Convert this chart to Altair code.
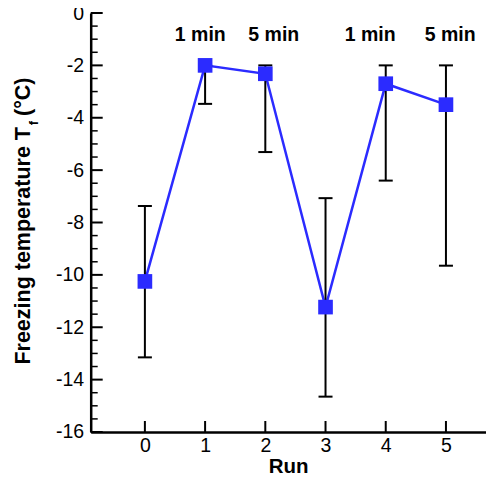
import altair as alt
import pandas as pd

# ---- data ----
runs = [0, 1, 2, 3, 4, 5]
tf_mean = [-10.25, -2.0, -2.32, -11.23, -2.70, -3.50]
tf_low = [-13.15, -3.47, -5.31, -14.65, -6.40, -9.65]
tf_high = [-7.37, -2.0, -2.0, -7.07, -2.0, -2.0]

note_x = [0.92, 2.14, 3.74, 5.07]
note_y = [-0.84, -0.84, -0.84, -0.84]
note_text = ["1 min", "5 min", "1 min", "5 min"]

x_ticks = [0, 1, 2, 3, 4, 5]
y_major = list(range(-16, 1, 2))
y_minor = [v / 2 for v in range(-31, 0) if v % 4 != 0]

BLUE = "#2b2bff"
FONT = "Liberation Sans"
W, H = 395, 419
LEFT, TOP = 82.7, 5.0

df = pd.DataFrame({"run": runs, "tf": tf_mean, "lo": tf_low, "hi": tf_high})
caps = pd.DataFrame({"run": runs + runs, "tf": tf_low + tf_high})
notes = pd.DataFrame({"run": note_x, "tf": note_y, "t": note_text})
xt = pd.DataFrame({"run": x_ticks})
ymaj = pd.DataFrame({"tf": y_major})
ymin = pd.DataFrame({"tf": y_minor})
one = pd.DataFrame({"a": [0]})

xscale = alt.Scale(domain=[-0.9, 5.66], nice=False, zero=False)
yscale = alt.Scale(domain=[-16, 0], nice=False, zero=False)

xaxis = alt.Axis(values=x_ticks, labelExpr="'' + datum.value", ticks=False,
                 grid=False, domainColor="black", domainWidth=2.5,
                 labelFont=FONT, labelFontSize=19.5, labelColor="black",
                 labelPadding=4.5, title="Run", titleFont=FONT,
                 titleFontSize=20.5, titleFontWeight="bold", titleColor="black",
                 titlePadding=1.5)
yaxis = alt.Axis(values=y_major, labelExpr="'' + datum.value", ticks=False,
                 grid=False, domainColor="black", domainWidth=2.5,
                 labelFont=FONT, labelFontSize=19.5, labelColor="black",
                 labelPadding=7, title=None)

X = alt.X("run:Q", scale=xscale, axis=xaxis)
Y = alt.Y("tf:Q", scale=yscale, axis=yaxis)

line = alt.Chart(df).mark_line(color=BLUE, strokeWidth=2.5).encode(x=X, y=Y)

err = alt.Chart(df).mark_rule(color="black", strokeWidth=2).encode(
    x=X, y=alt.Y("lo:Q", scale=yscale, axis=yaxis), y2="hi:Q")

cap = alt.Chart(caps).mark_tick(color="black", orient="horizontal",
                                size=14, thickness=2, opacity=1).encode(x=X, y=Y)

pts = alt.Chart(df).mark_point(shape="square", filled=True, size=215,
                               color=BLUE, opacity=1).encode(x=X, y=Y)

txt = alt.Chart(notes).mark_text(font=FONT, fontSize=19.5, fontWeight="bold",
                                 color="black", align="center",
                                 baseline="middle").encode(x=X, y=Y, text="t:N")

xtick = alt.Chart(xt).mark_rule(color="black", strokeWidth=2).encode(
    x=X, y=alt.value(H), y2=alt.value(H - 11))
ytick_major = alt.Chart(ymaj).mark_rule(color="black", strokeWidth=2).encode(
    y=Y, x=alt.value(0), x2=alt.value(12))
ytick_minor = alt.Chart(ymin).mark_rule(color="black", strokeWidth=1.5).encode(
    y=Y, x=alt.value(0), x2=alt.value(7))

# y-axis title with a subscript f (page coordinates converted to plot ones)
TX = 24 - (LEFT + 8)
ytitle_main = alt.Chart(one).mark_text(
    font=FONT, fontSize=21.5, fontWeight="bold", color="black",
    angle=270, align="right", baseline="middle").encode(
    x=alt.value(TX), y=alt.value(127 - (TOP + 8)),
    text=alt.value("Freezing temperature T"))
ytitle_sub = alt.Chart(one).mark_text(
    font=FONT, fontSize=13, fontWeight="bold", color="black",
    angle=270, align="center", baseline="middle").encode(
    x=alt.value(34 - (LEFT + 8)), y=alt.value(123 - (TOP + 8)),
    text=alt.value("f"))
ytitle_unit = alt.Chart(one).mark_text(
    font=FONT, fontSize=21.5, fontWeight="bold", color="black",
    angle=270, align="left", baseline="middle").encode(
    x=alt.value(TX), y=alt.value(116 - (TOP + 8)), text=alt.value("(°C)"))

chart = alt.layer(
    xtick, ytick_major, ytick_minor, line, err, cap, pts, txt,
    ytitle_main, ytitle_sub, ytitle_unit
).properties(
    width=W, height=H,
    autosize=alt.AutoSizeParams(type="none"),
    padding={"left": LEFT, "top": TOP, "right": 0, "bottom": 42},
    background="white",
).configure_view(stroke=None)

chart.save("out.html", embed_options={"renderer": "svg", "actions": False})
